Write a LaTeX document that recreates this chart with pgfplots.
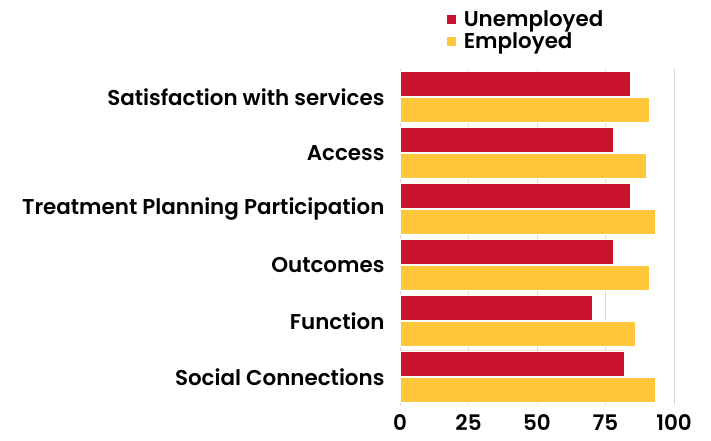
\documentclass[border=0pt]{standalone}
\usepackage{pgfplots}
\pgfplotsset{compat=1.18}
\usepackage{fontspec}
\setmainfont{Poppins}[UprightFont={* Medium}, BoldFont={* SemiBold}]
\definecolor{unemp}{HTML}{C8122E}
\definecolor{emp}{HTML}{FFC83C}
\begin{document}
\begin{tikzpicture}
\path[use as bounding box] (0,0) rectangle (711bp,441bp);
\begin{axis}[
  at={(400bp,36.3bp)}, anchor=south west,
  width=274bp, height=336bp, scale only axis,
  xbar, bar width=25bp,
  xmin=0, xmax=100, ymin=-0.5, ymax=5.5,
  xtick={0,25,50,75,100},
  ytick={0,1,2,3,4,5},
  yticklabels={Social Connections, Function, Outcomes, Treatment Planning Participation, Access, Satisfaction with services},
  xmajorgrids, grid style={black!15, line width=0.8bp},
  axis line style={draw=none},
  major tick length=0,
  tick label style={font=\fontsize{21.5}{24}\selectfont\bfseries, text=black},
  /pgf/number format/assume math mode=true,
  xticklabel style={yshift=-9bp, inner sep=1bp},
  yticklabel style={xshift=-12bp},
  legend style={draw=none, fill=none, at={(axis description cs:0.172,1)}, anchor=south west, yshift=16.5bp,
    font=\fontsize{21.5}{24}\selectfont\bfseries, row sep=1bp, column sep=6bp, inner sep=0bp},
  legend cell align=left,
  legend image code/.code={\fill[#1, draw=none] (0bp,-4.5bp) rectangle (8.5bp,4.5bp);},
]
\addplot[fill=unemp, draw=white, line width=0.6bp, bar shift=13.2bp] coordinates {
  (82,0) (70,1) (78,2) (84,3) (78,4) (84,5)};
\addlegendentry{Unemployed}
\addplot[fill=emp, draw=white, line width=0.6bp, bar shift=-13.2bp] coordinates {
  (93,0) (86,1) (91,2) (93,3) (90,4) (91,5)};
\addlegendentry{Employed}
\end{axis}
\end{tikzpicture}
\end{document}
